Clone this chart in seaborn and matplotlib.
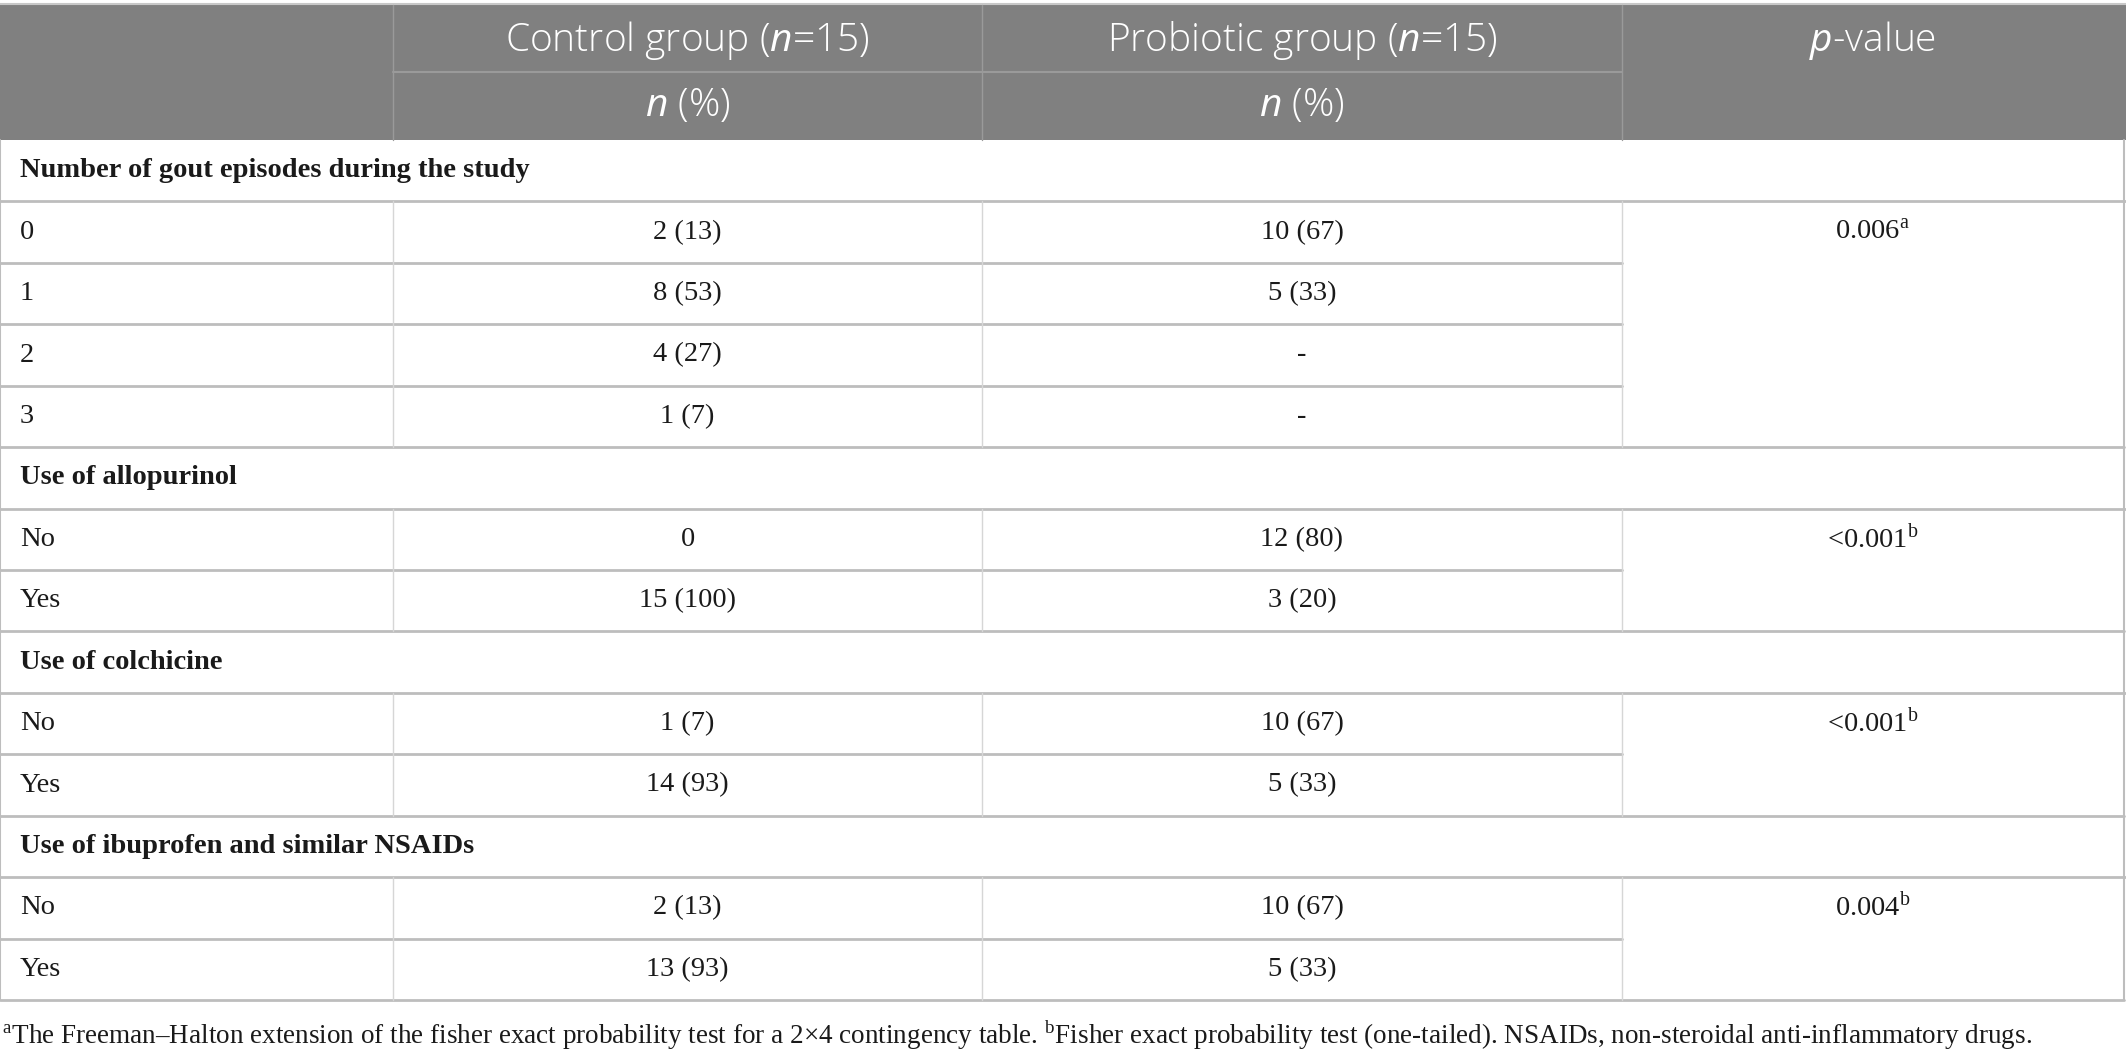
import matplotlib
matplotlib.use("Agg")
import matplotlib.pyplot as plt
import seaborn as sns

# table content
col_headers = ["Control group ($n$=15)", "Probiotic group ($n$=15)", "$p$-value"]
sub_header = "$n$ (%)"

sections = [
    "Number of gout episodes during the study",
    "Use of allopurinol",
    "Use of colchicine",
    "Use of ibuprofen and similar NSAIDs",
]
row_labels = [
    ["0", "1", "2", "3"],
    ["No", "Yes"],
    ["No", "Yes"],
    ["No", "Yes"],
]
control_vals = [
    ["2 (13)", "8 (53)", "4 (27)", "1 (7)"],
    ["0", "15 (100)"],
    ["1 (7)", "14 (93)"],
    ["2 (13)", "13 (93)"],
]
probiotic_vals = [
    ["10 (67)", "5 (33)", "-", "-"],
    ["12 (80)", "3 (20)"],
    ["10 (67)", "5 (33)"],
    ["10 (67)", "5 (33)"],
]
p_values = ["0.006", "<0.001", "<0.001", "0.004"]
p_marks = ["a", "b", "b", "b"]
footnote = ("$^{\\mathrm{a}}$The Freeman\u2013Halton extension of the fisher exact probability test "
            "for a 2\u00d74 contingency table. $^{\\mathrm{b}}$Fisher exact probability test "
            "(one-tailed). NSAIDs, non-steroidal anti-inflammatory drugs.")

sns.set_theme(style="white")
plt.rcParams["mathtext.fontset"] = "custom"
plt.rcParams["mathtext.it"] = "Open Sans:italic"
plt.rcParams["mathtext.rm"] = "Liberation Serif"

W, H = 2126, 1052
fig = plt.figure(figsize=(W / 100, H / 100), dpi=100)
ax = fig.add_axes([0, 0, 1, 1])
ax.set_xlim(0, W)
ax.set_ylim(H, 0)
ax.axis("off")

col_x = [0, 393, 982, 1622, 2124]
head_top, head_mid, head_bot = 5, 72, 140
n_rows = len(sections) + sum(len(r) for r in row_labels)
row_h = (1000 - head_bot) / n_rows

header_gray = "#808080"
line_h = "#bdbdbd"
line_v = "#d6d6d6"
head_font = dict(family="Open Sans", color="white", fontsize=28, fontweight="light")
body_font = dict(family="Liberation Serif", color="#1a1a1a", fontsize=20.5)

# header band
ax.add_patch(plt.Rectangle((0, head_top), W, head_bot - head_top, color=header_gray, lw=0))
ax.plot([0, W], [head_top - 1, head_top - 1], color="#c8c8c8", lw=1.5)
for x in col_x[1:4]:
    ax.plot([x, x], [head_top, head_bot], color="#9a9a9a", lw=1)
ax.plot([col_x[1], col_x[3]], [head_mid, head_mid], color="#9a9a9a", lw=1.5)
for i, h in enumerate(col_headers):
    xc = (col_x[i + 1] + col_x[i + 2]) / 2
    ax.text(xc, (head_top + head_mid) / 2 + 2, h, ha="center", va="center", **head_font)
    if i < 2:
        ax.text(xc, (head_mid + head_bot) / 2, sub_header, ha="center", va="center", **head_font)

# body
y = head_bot
ax.plot([0, 0], [head_bot, 1000], color=line_h, lw=1.5)
ax.plot([col_x[4], col_x[4]], [head_bot, 1000], color=line_h, lw=1.5)
for s, sec in enumerate(sections):
    ax.text(20, y + row_h / 2, sec, ha="left", va="center", fontweight="bold", **body_font)
    y += row_h
    ax.plot([0, W], [y, y], color=line_h, lw=2)
    group_top = y
    for r, lab in enumerate(row_labels[s]):
        yc = y + row_h / 2
        ax.text(20, yc, lab, ha="left", va="center", **body_font)
        ax.text((col_x[1] + col_x[2]) / 2, yc, control_vals[s][r], ha="center", va="center", **body_font)
        ax.text((col_x[2] + col_x[3]) / 2, yc, probiotic_vals[s][r], ha="center", va="center", **body_font)
        if r == 0:
            ax.text((col_x[3] + col_x[4]) / 2, yc, p_values[s] + "$^{\\mathrm{%s}}$" % p_marks[s],
                    ha="center", va="center", **body_font)
        y += row_h
        right = col_x[4] if r == len(row_labels[s]) - 1 else col_x[3]
        ax.plot([0, right], [y, y], color=line_h, lw=2)
    for x in col_x[1:4]:
        ax.plot([x, x], [group_top, y], color=line_v, lw=1)

foot_font = dict(body_font, fontsize=19.5)
ax.text(2, 1035, footnote, ha="left", va="center", **foot_font)

fig.savefig("out.png", dpi=100)
